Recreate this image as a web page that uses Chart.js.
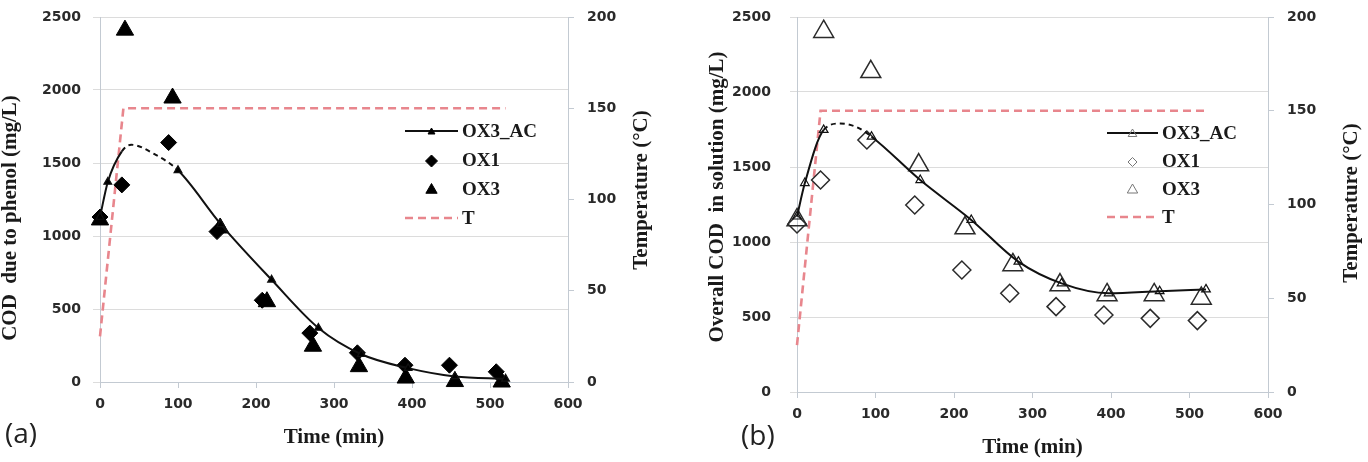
<!DOCTYPE html>
<html>
<head>
<meta charset="utf-8">
<script src="https://cdn.jsdelivr.net/npm/chart.js@4"></script>
<style>
html, body { margin: 0; padding: 0; background: #fff; }
#wrap { position: relative; width: 1368px; height: 462px; overflow: hidden; }
canvas { position: absolute; top: 0; }
.tag { position: absolute; font-family: 'Open Sans', sans-serif; font-size: 28px; color: #222; line-height: 1; }
</style>
</head>
<body>
<div id="wrap">
  <canvas id="chartA" width="684" height="462" style="left:0"></canvas>
  <canvas id="chartB" width="684" height="462" style="left:684px"></canvas>
  <div class="tag" style="left:5px;top:418px">(a)</div>
  <div class="tag" style="left:741px;top:420px">(b)</div>
</div>
<script>
// ---- data ----
// (a) COD due to phenol
const timeA_model = [0, 10, 100, 155, 220, 280, 335, 395, 455, 520];
const codA_model  = [1130, 1370, 1450, 1080, 700, 370, 190, 95, 38, 22];
const timeA_peak  = [28, 40, 70];          // dashed (unsampled) part of the model curve
const codA_peak   = [1580, 1625, 1560];
const timeA_ox1 = [0, 28, 88, 150, 208, 269, 330, 391, 448, 508];
const codA_ox1  = [1130, 1350, 1640, 1030, 560, 335, 200, 115, 115, 70];
const timeA_ox3 = [0, 32, 93, 154, 214, 273, 332, 392, 455, 515];
const codA_ox3  = [1110, 2410, 1945, 1055, 550, 245, 105, 27, 3, 0];

// (b) overall COD in solution
const timeB_model = [0, 10, 34, 95, 157, 222, 282, 337, 397, 462, 521];
const codB_model  = [1170, 1393, 1747, 1702, 1413, 1147, 869, 724, 658, 672, 684];
const timeB_peak  = [55, 75];
const codB_peak   = [1790, 1768];
const timeB_ox1 = [0, 30, 89, 150, 210, 271, 330, 391, 450, 510];
const codB_ox1  = [1120, 1413, 1680, 1247, 813, 658, 569, 513, 491, 476];
const timeB_ox3 = [0, 34, 94, 155, 214, 275, 335, 395, 455, 515];
const codB_ox3  = [1147, 2402, 2135, 1513, 1093, 847, 713, 647, 647, 624];

// temperature profile (both runs)
const timeT = [0, 30, 520];
const tempT = [25, 150, 150];

const xTicks = [0, 100, 200, 300, 400, 500, 600];

// ---- helpers ----
const pairs = (t, v) => t.map((x, i) => ({ x: x, y: v[i] }));

function modelPoints(t, v, tp, vp) {
  const pts = t.map((x, i) => ({ x: x, y: v[i], peak: false }))
    .concat(tp.map((x, i) => ({ x: x, y: vp[i], peak: true })));
  return pts.sort((a, b) => a.x - b.x);
}

const TICK_FONT = { family: 'DejaVu Sans', size: 14, weight: 'bold' };
const TITLE_FONT = { family: 'Liberation Serif', size: 21, weight: 'bold' };
const AXIS_COL = '#c3cad2';
const GRID_COL = '#dcdcdc';
const RED = '#e8868d';
const plain = v => String(v);

function drawMarker(ctx, style, x, y, r, fill, stroke, lw) {
  ctx.beginPath();
  if (style === 'triangle') {
    ctx.moveTo(x, y - r);
    ctx.lineTo(x + r * 0.866, y + r * 0.5);
    ctx.lineTo(x - r * 0.866, y + r * 0.5);
  } else {
    ctx.moveTo(x, y - r);
    ctx.lineTo(x + r, y);
    ctx.lineTo(x, y + r);
    ctx.lineTo(x - r, y);
  }
  ctx.closePath();
  if (fill) { ctx.fillStyle = fill; ctx.fill(); }
  if (stroke) { ctx.strokeStyle = stroke; ctx.lineWidth = lw; ctx.stroke(); }
}

// legend inside the plot + rotated axis titles reading bottom-to-top
const overlay = {
  id: 'overlay',
  afterDraw(chart, args, o) {
    const ctx = chart.ctx;
    ctx.save();
    chart.data.datasets.forEach((ds, i) => {
      const y = o.top + i * o.gap;
      const x0 = o.left, x1 = o.left + o.swatch;
      if (ds.showLine) {
        ctx.beginPath();
        ctx.setLineDash(ds.borderDash || []);
        ctx.strokeStyle = ds.borderColor;
        ctx.lineWidth = ds.borderWidth;
        ctx.moveTo(x0, y); ctx.lineTo(x1, y); ctx.stroke();
        ctx.setLineDash([]);
      }
      if (o.marks[i]) drawMarker(ctx, ds.pointStyle, (x0 + x1) / 2, y + 1, o.marks[i], o.markFill, o.markStroke, 1);
      ctx.fillStyle = '#1a1a1a';
      ctx.font = 'bold 19px "Liberation Serif"';
      ctx.textBaseline = 'middle';
      ctx.textAlign = 'left';
      ctx.fillText(ds.label, x1 + 4, y + 1);
    });
    ctx.font = 'bold 21px "Liberation Serif"';
    ctx.textAlign = 'center';
    o.titles.forEach(t => {
      ctx.save();
      ctx.translate(t.x, t.y);
      ctx.rotate(-Math.PI / 2);
      ctx.fillText(t.text, 0, 0);
      ctx.restore();
    });
    ctx.restore();
  }
};

// fixed axis box sizes so the plot area lands where the reference has it
const fixWidth = w => s => { s.width = w; s.paddingTop = 0; s.paddingBottom = 0; };

function makeChart(id, cfg) {
  const model = modelPoints(cfg.tm, cfg.vm, cfg.tp, cfg.vp);
  const datasets = [
    {
      label: 'OX3_AC', data: model, showLine: true,
      borderColor: '#111', borderWidth: 2, cubicInterpolationMode: 'monotone',
      pointStyle: 'triangle',
      pointRadius: c => (c.raw && c.raw.peak) ? 0 : cfg.acR,
      pointBackgroundColor: cfg.fill, pointBorderColor: '#111', pointBorderWidth: 1.2,
      segment: {
        borderDash: c => (model[c.p0DataIndex].x >= cfg.dashFrom && model[c.p1DataIndex].x <= cfg.dashTo) ? [5, 4] : undefined
      },
      clip: false, order: 1
    },
    {
      label: 'OX1', data: pairs(cfg.t1, cfg.v1), showLine: false,
      pointStyle: 'rectRot', pointRadius: cfg.dR,
      pointBackgroundColor: cfg.fill, pointBorderColor: cfg.stroke, pointBorderWidth: cfg.lw,
      clip: false, order: 2
    },
    {
      label: 'OX3', data: pairs(cfg.t3, cfg.v3), showLine: false,
      pointStyle: 'triangle', pointRadius: cfg.tR,
      pointBackgroundColor: cfg.fill, pointBorderColor: cfg.stroke, pointBorderWidth: cfg.lw,
      clip: false, order: 3
    },
    {
      label: 'T', data: pairs(timeT, tempT), yAxisID: 'yT', showLine: true,
      borderColor: RED, borderWidth: 2.6, borderDash: [8, 5], pointRadius: 0,
      clip: false, order: 4
    }
  ];

  return new Chart(document.getElementById(id), {
    type: 'scatter',
    data: { datasets: datasets },
    options: {
      responsive: false,
      animation: false,
      layout: { padding: { top: 17, left: 0, right: 0, bottom: 0 } },
      plugins: {
        legend: { display: false },
        tooltip: { enabled: false },
        overlay: cfg.overlay
      },
      scales: {
        x: {
          type: 'linear', min: 0, max: 600,
          afterFit: s => { s.height = cfg.xH; s.paddingLeft = 0; s.paddingRight = 0; },
          afterBuildTicks: s => { s.ticks = xTicks.map(v => ({ value: v })); },
          grid: { drawOnChartArea: false, drawTicks: true, tickLength: 6, color: AXIS_COL },
          border: { color: AXIS_COL },
          ticks: { font: TICK_FONT, color: '#2a2a2a', padding: 8, maxRotation: 0, callback: plain },
          title: { display: true, text: 'Time (min)', font: TITLE_FONT, color: '#1a1a1a', padding: { top: 0, bottom: cfg.xTitlePad } }
        },
        y: {
          position: 'left', min: 0, max: 2500,
          afterFit: fixWidth(cfg.yW),
          ticks: { stepSize: 500, font: TICK_FONT, color: '#2a2a2a', padding: cfg.yPad, callback: plain },
          grid: { color: GRID_COL, tickLength: 7 },
          border: { color: AXIS_COL }
        },
        yT: {
          position: 'right', min: 0, max: 200,
          afterFit: fixWidth(cfg.tW),
          ticks: { stepSize: 50, font: TICK_FONT, color: '#2a2a2a', padding: 13, callback: plain },
          grid: { drawOnChartArea: false, tickLength: 6, color: AXIS_COL },
          border: { color: AXIS_COL }
        }
      }
    },
    plugins: [overlay]
  });
}

makeChart('chartA', {
  tm: timeA_model, vm: codA_model, tp: timeA_peak, vp: codA_peak,
  t1: timeA_ox1, v1: codA_ox1, t3: timeA_ox3, v3: codA_ox3,
  dashFrom: 28, dashTo: 100,
  fill: '#000', stroke: '#000', lw: 1, acR: 4.5, dR: 8, tR: 10,
  xH: 80, yW: 100, tW: 116, yPad: 12, xTitlePad: 12,
  overlay: {
    left: 405, top: 131, gap: 29, swatch: 53,
    marks: [4, 6, 6.5, 0], markFill: '#000', markStroke: '#000',
    titles: [
      { text: 'COD  due to phenol (mg/L)', x: 11, y: 218 },
      { text: 'Temperature (°C)', x: 642, y: 190 }
    ]
  }
});

makeChart('chartB', {
  tm: timeB_model, vm: codB_model, tp: timeB_peak, vp: codB_peak,
  t1: timeB_ox1, v1: codB_ox1, t3: timeB_ox3, v3: codB_ox3,
  dashFrom: 34, dashTo: 95,
  fill: 'rgba(0,0,0,0)', stroke: '#2b2b2b', lw: 1.5, acR: 5, dR: 9, tR: 11.5,
  xH: 70, yW: 113, tW: 100, yPad: 19, xTitlePad: 2,
  overlay: {
    left: 423, top: 133, gap: 28, swatch: 51,
    marks: [5, 4.5, 6, 0], markFill: null, markStroke: '#777',
    titles: [
      { text: 'Overall COD  in solution (mg/L)', x: 34, y: 197 },
      { text: 'Temperature (°C)', x: 668, y: 203 }
    ]
  }
});
</script>
</body>
</html>
